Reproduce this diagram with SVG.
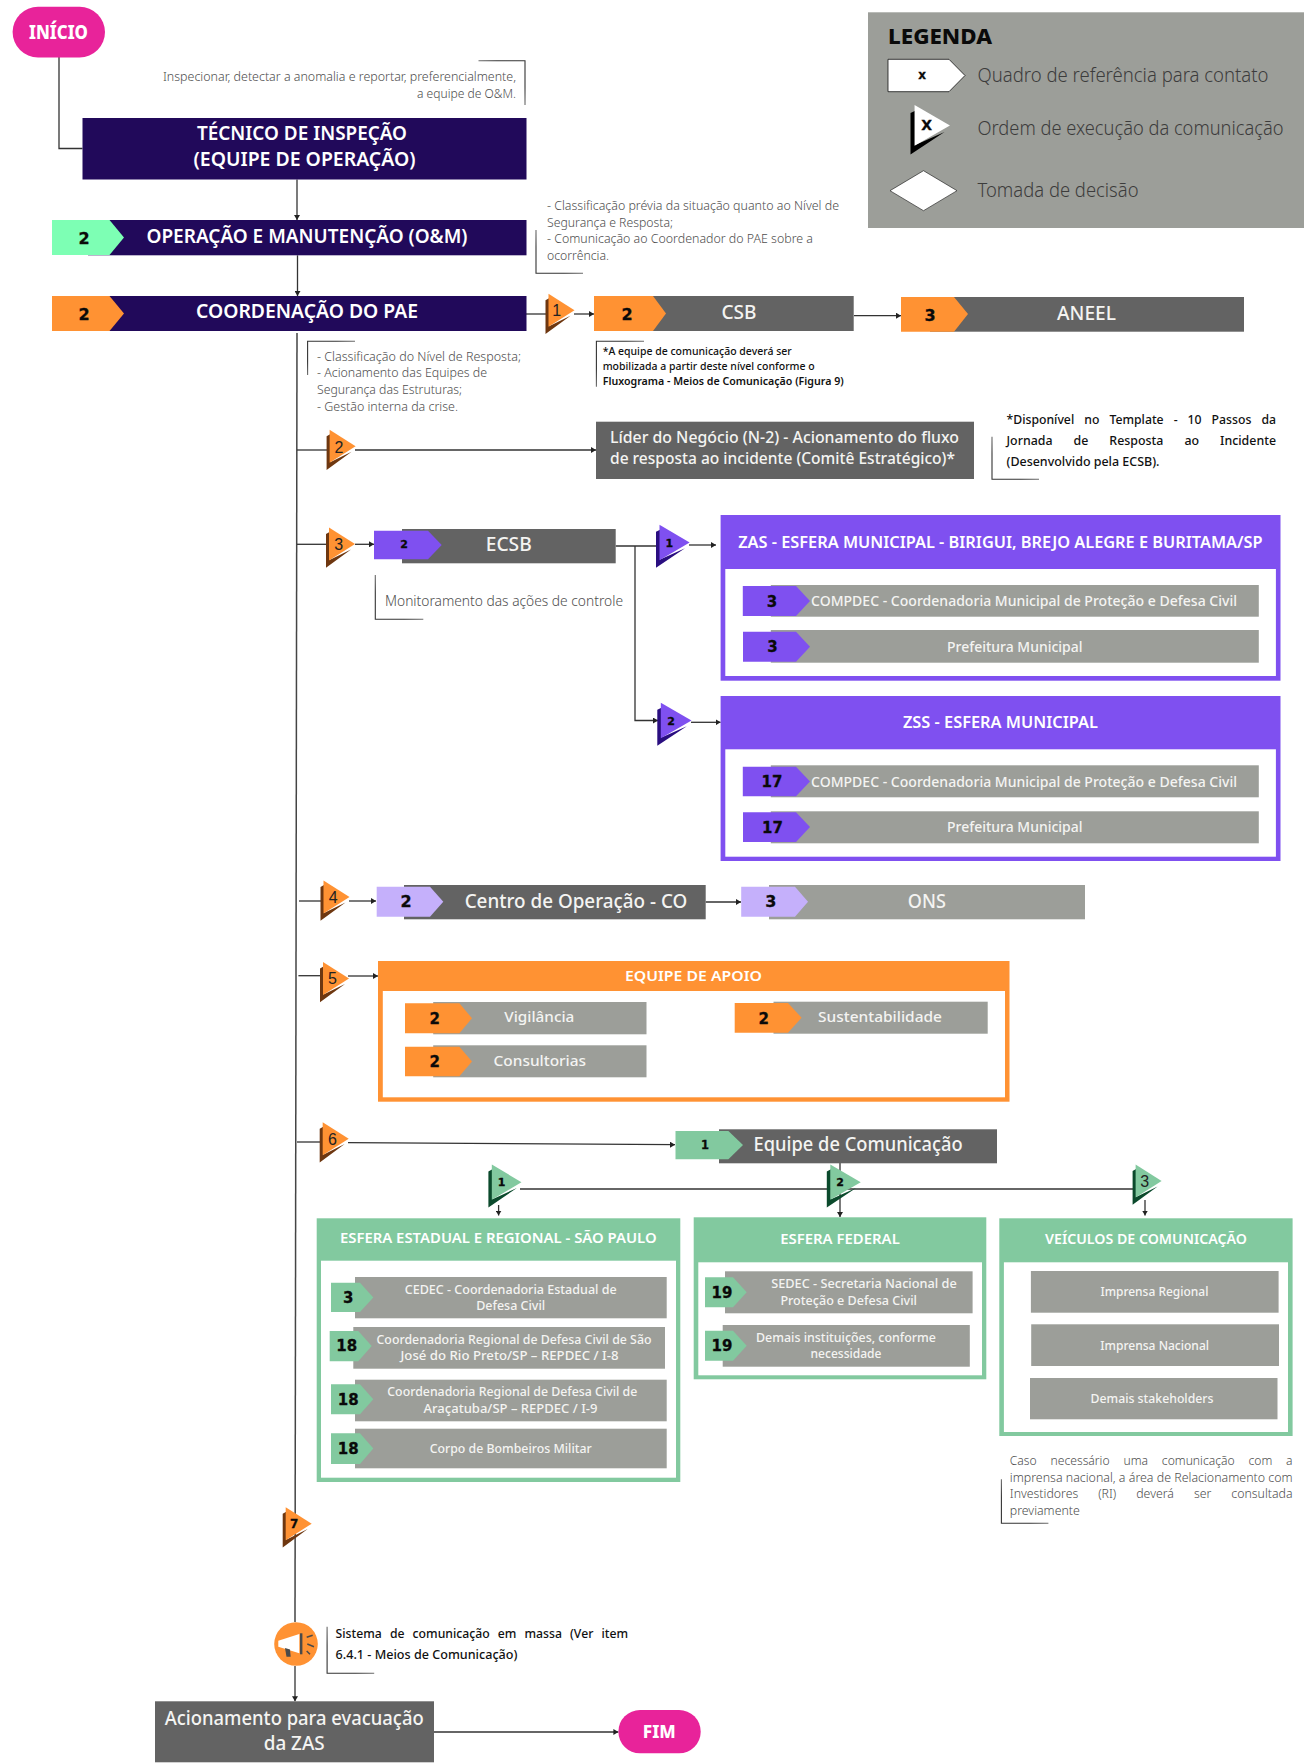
<svg xmlns="http://www.w3.org/2000/svg" width="1310" height="1764" viewBox="0 0 1310 1764">
<style>
text{font-family:"Noto Sans","Liberation Sans",sans-serif}
.m{text-anchor:middle}
.e{text-anchor:end}
.wb{fill:#fff;font-weight:600}
.wx{fill:#fff;font-weight:800}
.w{fill:#f4f4f2;font-weight:500}
.n{font-family:"DejaVu Sans",sans-serif;font-weight:700;fill:#0a0a0a;text-anchor:middle;stroke:#0a0a0a;stroke-width:0.300}
.oa{font-family:"Liberation Sans",sans-serif;font-size:16px;fill:#222;text-anchor:middle}
.a{fill:#4e4e4e;font-weight:300}
.b{fill:#111;font-weight:500}
.lg{fill:#3c3c3c;font-size:20px;font-weight:300}
.navy{fill:#21095a}.dk{fill:#636363}.gr{fill:#9c9e99}
.or{fill:#ff9233}.pu{fill:#7f50f0}.li{fill:#c5b0fb}.ge{fill:#82c99f}.mi{fill:#7dffb4}
.po{fill:#ff9233;color:#6e3710}.pp{fill:#7f50f0;color:#2a0e80}.pg{fill:#82c99f;color:#0b4a2c}.pw{fill:#fff;color:#000}
.pk{fill:#e8239a}
.c{fill:none;stroke:#333;stroke-width:1.3}
.ca{fill:none;stroke:#333;stroke-width:1.3;marker-end:url(#ah)}
.tr{fill:none;stroke:url(#ftr);stroke-width:1.100}
.bl{fill:none;stroke:url(#fbl);stroke-width:1.100}
.tl{fill:none;stroke:url(#ftl);stroke-width:1.100}
</style>
<defs>
<marker id="ah" viewBox="0 0 5 6" refX="5" refY="3" markerWidth="5" markerHeight="6" markerUnits="userSpaceOnUse" orient="auto"><path d="M0 0L5 3L0 6Z" fill="#222"/></marker>
<g id="ot"><polygon points="0,7 3.500,5 3.500,33 25,22.400 0,40.700" fill="currentColor"/><polygon points="3,0.500 29,17 3,33.500"/></g>
<linearGradient id="ftr" x1="1" y1="0" x2="0" y2="1"><stop offset="0.300" stop-color="#333"/><stop offset="1" stop-color="#333" stop-opacity="0"/></linearGradient>
<linearGradient id="fbl" x1="0" y1="1" x2="1" y2="0"><stop offset="0.300" stop-color="#333"/><stop offset="1" stop-color="#333" stop-opacity="0"/></linearGradient>
<linearGradient id="ftl" x1="0" y1="0" x2="1" y2="1"><stop offset="0.300" stop-color="#333"/><stop offset="1" stop-color="#333" stop-opacity="0"/></linearGradient>
</defs>
<rect width="1310" height="1764" fill="#fff"/>

<g id="connectors">
<path class="c" d="M59 57V148.500H82.500"/>
<path class="ca" d="M297 179.500V220"/>
<path class="ca" d="M297.500 255.300V296"/>
<path class="c" d="M517 314H546"/>
<path class="ca" d="M574 314H594"/>
<path class="ca" d="M854 315.700H901"/>
<path d="M297 333L295 1622" fill="none" stroke="#444" stroke-width="1.500"/>
<path class="ca" d="M295 1666V1701.300"/>
<path class="c" d="M297 450H327"/>
<path class="ca" d="M355 450H596"/>
<path class="c" d="M297 544.300H327"/>
<path class="ca" d="M355 544.300H374"/>
<path class="c" d="M615.700 546H657"/>
<path class="ca" d="M689 545H716"/>
<path class="ca" d="M635 546V720.500H658"/>
<path class="ca" d="M691 722.300H720.600"/>
<path class="c" d="M299 901H322"/>
<path class="ca" d="M349 901H376"/>
<path class="ca" d="M705.700 902H741"/>
<path class="c" d="M298.400 975.700H321"/>
<path class="ca" d="M348 976H378"/>
<path class="c" d="M297 1142H321"/>
<path class="ca" d="M348 1142.700L675 1144.700"/>
<path class="c" d="M520 1189H1133"/>
<path class="ca" d="M840 1163V1217"/>
<path class="ca" d="M498.600 1205V1215.500"/>
<path class="ca" d="M1145 1200V1215.500"/>
<path class="ca" d="M434 1732H618.400"/>
</g>

<g id="inicio"><rect class="pk" x="12.600" y="6.700" width="92.400" height="50.800" rx="25.400"/><text class="wx m" x="58.500" y="38.800" font-size="19" textLength="59" lengthAdjust="spacingAndGlyphs">INÍCIO</text></g>
<g id="nota-inspecao"><path class="tr" d="M478.500 60.700H525V105"/><text class="a e" x="516" y="81" font-size="13" textLength="353" lengthAdjust="spacingAndGlyphs">Inspecionar, detectar a anomalia e reportar, preferencialmente,</text><text class="a e" x="516" y="97.700" font-size="13" textLength="99" lengthAdjust="spacingAndGlyphs">a equipe de O&amp;M.</text></g>
<g id="tecnico"><rect class="navy" x="82.500" y="118" width="444" height="61.500"/><text class="wb m" x="302" y="140" font-size="19" textLength="210" lengthAdjust="spacingAndGlyphs">TÉCNICO DE INSPEÇÃO</text><text class="wb m" x="304.500" y="165.700" font-size="19" textLength="222" lengthAdjust="spacingAndGlyphs">(EQUIPE DE OPERAÇÃO)</text></g>
<g id="om"><rect class="navy" x="88" y="220" width="438.500" height="35.300"/><polygon class="mi" points="52,220 109.500,220 124,237.500 109.500,255 52,255"/><text class="n" x="84" y="243.500" font-size="16">2</text><text class="wb m" x="307" y="242.700" font-size="19" textLength="321" lengthAdjust="spacingAndGlyphs">OPERAÇÃO E MANUTENÇÃO (O&amp;M)</text></g>
<g id="nota-om"><path class="bl" d="M536 230V273.300H583"/><text class="a" x="547" y="210.300" font-size="13" textLength="292" lengthAdjust="spacingAndGlyphs">- Classificação prévia da situação quanto ao Nível de</text><text class="a" x="547" y="226.700" font-size="13" textLength="126" lengthAdjust="spacingAndGlyphs">Segurança e Resposta;</text><text class="a" x="547" y="243.300" font-size="13" textLength="266" lengthAdjust="spacingAndGlyphs">- Comunicação ao Coordenador do PAE sobre a</text><text class="a" x="547" y="260" font-size="13" textLength="62" lengthAdjust="spacingAndGlyphs">ocorrência.</text></g>
<g id="pae"><rect class="navy" x="88" y="296" width="438.500" height="35"/><polygon class="or" points="52,296 109.500,296 124,313.500 109.500,331 52,331"/><text class="n" x="84" y="319.500" font-size="16">2</text><text class="wb m" x="307" y="318" font-size="19" textLength="222" lengthAdjust="spacingAndGlyphs">COORDENAÇÃO DO PAE</text></g>
<g id="ordem-1a"><use href="#ot" class="po" transform="translate(545.500,293.300)"/><text class="oa" x="556.700" y="316">1</text></g>
<g id="csb"><rect class="dk" x="620" y="296" width="233.700" height="35"/><polygon class="or" points="594,296 653,296 666,313.500 653,331 594,331"/><text class="n" x="627" y="319.500" font-size="16">2</text><text class="w m" x="739" y="319" font-size="19" textLength="35" lengthAdjust="spacingAndGlyphs">CSB</text></g>
<g id="aneel"><rect class="dk" x="930" y="297" width="314" height="34.700"/><polygon class="or" points="901,297 954,297 968,314 954,331.700 901,331.700"/><text class="n" x="930" y="320.500" font-size="16">3</text><text class="w m" x="1086.500" y="319.500" font-size="19" textLength="59" lengthAdjust="spacingAndGlyphs">ANEEL</text></g>
<g id="nota-csb"><path class="tl" d="M644 341.300H596.400V386.700"/><text class="b" x="602.700" y="355" font-size="11" textLength="189" lengthAdjust="spacingAndGlyphs">*A equipe de comunicação deverá ser</text><text class="b" x="602.700" y="370" font-size="11" textLength="212" lengthAdjust="spacingAndGlyphs">mobilizada a partir deste nível conforme o</text><text x="602.700" y="385" fill="#111" font-weight="600" font-size="11" textLength="241" lengthAdjust="spacingAndGlyphs">Fluxograma - Meios de Comunicação (Figura 9)</text></g>
<g id="nota-pae"><path class="tl" d="M355 341.300H307.600V375"/><text class="a" x="317" y="360.700" font-size="13" textLength="204" lengthAdjust="spacingAndGlyphs">- Classificação do Nível de Resposta;</text><text class="a" x="317" y="377.300" font-size="13" textLength="170" lengthAdjust="spacingAndGlyphs">- Acionamento das Equipes de</text><text class="a" x="317" y="394" font-size="13" textLength="145" lengthAdjust="spacingAndGlyphs">Segurança das Estruturas;</text><text class="a" x="317" y="410.700" font-size="13" textLength="141" lengthAdjust="spacingAndGlyphs">- Gestão interna da crise.</text></g>
<g id="ordem-2"><use href="#ot" class="po" transform="translate(326.600,429.300)"/><text class="oa" x="339" y="452.500">2</text></g>
<g id="lider"><rect class="dk" x="596" y="421.700" width="378" height="57.300"/><text class="w" x="610" y="443.300" font-size="16" textLength="349" lengthAdjust="spacingAndGlyphs">Líder do Negócio (N-2) - Acionamento do fluxo</text><text class="w" x="610" y="464" font-size="16" textLength="345" lengthAdjust="spacingAndGlyphs">de resposta ao incidente (Comitê Estratégico)*</text></g>
<g id="nota-lider"><path class="bl" d="M992 436.700V479.300H1039"/><text class="b" x="1006.500" y="424" font-size="12.500" word-spacing="7" textLength="269.500" lengthAdjust="spacingAndGlyphs">*Disponível no Template - 10 Passos da</text><text class="b" x="1006.500" y="445" font-size="12.500" word-spacing="18" textLength="269.500" lengthAdjust="spacingAndGlyphs">Jornada de Resposta ao Incidente</text><text class="b" x="1006.500" y="465.700" font-size="12.500" textLength="153" lengthAdjust="spacingAndGlyphs">(Desenvolvido pela ECSB).</text></g>
<g id="ordem-3"><use href="#ot" class="po" transform="translate(326,527)"/><text class="oa" x="338.700" y="550">3</text></g>
<g id="ecsb"><rect class="dk" x="402" y="529" width="213.700" height="34.300"/><polygon class="pu" points="374,530.700 428,530.700 441.700,545 428,559.300 374,559.300"/><text class="n" x="404" y="547.500" font-size="11">2</text><text class="w m" x="508.700" y="551" font-size="19" textLength="46" lengthAdjust="spacingAndGlyphs">ECSB</text></g>
<g id="nota-ecsb"><path class="bl" d="M375.300 575V619.300H423.300"/><text class="a" x="385" y="606" font-size="15" textLength="238" lengthAdjust="spacingAndGlyphs">Monitoramento das ações de controle</text></g>
<g id="ordem-z1"><use href="#ot" class="pp" transform="translate(656,524.300) scale(1.160,1.070)"/><text class="n" x="669.300" y="546.500" font-size="11">1</text></g>
<g id="ordem-z2"><use href="#ot" class="pp" transform="translate(657.300,702.300) scale(1.180,1.070)"/><text class="n" x="671" y="724.500" font-size="11">2</text></g>
<g id="zas"><rect class="pu" x="720.600" y="515" width="559.900" height="165.700"/><rect fill="#fff" x="725.300" y="569" width="550.600" height="107"/><text class="wb m" x="1000.400" y="547.500" font-size="16" textLength="524.500" lengthAdjust="spacingAndGlyphs">ZAS - ESFERA MUNICIPAL - BIRIGUI, BREJO ALEGRE E BURITAMA/SP</text>
<rect class="gr" x="770.800" y="585" width="488" height="31.700"/><polygon class="pu" points="742.800,586 796,586 810,601 796,616 742.800,616"/><text class="n" x="772" y="606.500" font-size="15">3</text><text class="w" x="811" y="605.500" font-size="15" textLength="426" lengthAdjust="spacingAndGlyphs">COMPDEC - Coordenadoria Municipal de Proteção e Defesa Civil</text>
<rect class="gr" x="770.800" y="630" width="488" height="32.700"/><polygon class="pu" points="743,631.700 796,631.700 810,646.700 796,661.700 743,661.700"/><text class="n" x="772.500" y="652" font-size="15">3</text><text class="w m" x="1014.800" y="651.500" font-size="15" textLength="135.400" lengthAdjust="spacingAndGlyphs">Prefeitura Municipal</text></g>
<g id="zss"><rect class="pu" x="720.600" y="696" width="559.900" height="165"/><rect fill="#fff" x="725.300" y="749.300" width="550.600" height="107.400"/><text class="wb m" x="1000.400" y="728" font-size="16" textLength="195" lengthAdjust="spacingAndGlyphs">ZSS - ESFERA MUNICIPAL</text>
<rect class="gr" x="770.800" y="765.300" width="488" height="32"/><polygon class="pu" points="742.800,766.700 796,766.700 810,781.500 796,796.300 742.800,796.300"/><text class="n" x="772" y="787" font-size="15">17</text><text class="w" x="811" y="786.500" font-size="15" textLength="426" lengthAdjust="spacingAndGlyphs">COMPDEC - Coordenadoria Municipal de Proteção e Defesa Civil</text>
<rect class="gr" x="770.800" y="811.300" width="488" height="32"/><polygon class="pu" points="743,812.300 796,812.300 810,827 796,842 743,842"/><text class="n" x="772.500" y="832.500" font-size="15">17</text><text class="w m" x="1014.800" y="832" font-size="15" textLength="135.400" lengthAdjust="spacingAndGlyphs">Prefeitura Municipal</text></g>
<g id="ordem-4"><use href="#ot" class="po" transform="translate(320.500,880)"/><text class="oa" x="333.300" y="903">4</text></g>
<g id="co"><rect class="dk" x="404" y="885" width="301.700" height="34.300"/><polygon class="li" points="376.700,886.700 430,886.700 443.300,901.700 430,916.700 376.700,916.700"/><text class="n" x="406" y="907" font-size="16">2</text><text class="w m" x="576" y="908" font-size="19" textLength="222.700" lengthAdjust="spacingAndGlyphs">Centro de Operação - CO</text></g>
<g id="ons"><rect class="gr" x="769" y="885" width="316" height="34.300"/><polygon class="li" points="741.200,886.700 795,886.700 808,901.700 795,916.700 741.200,916.700"/><text class="n" x="770.800" y="907" font-size="16">3</text><text class="w m" x="926.800" y="908" font-size="19" textLength="38" lengthAdjust="spacingAndGlyphs">ONS</text></g>
<g id="ordem-5"><use href="#ot" class="po" transform="translate(320,961.500)"/><text class="oa" x="332.400" y="984">5</text></g>
<g id="apoio"><rect class="or" x="378" y="961" width="631.500" height="140.700"/><rect fill="#fff" x="382.800" y="991" width="622.200" height="106.300"/><text class="wb m" x="693.500" y="981.300" font-size="15" textLength="137" lengthAdjust="spacingAndGlyphs">EQUIPE DE APOIO</text>
<rect class="gr" x="433.200" y="1002" width="213.300" height="32.300"/><polygon class="or" points="405,1003.300 459.400,1003.300 472,1018.300 459.400,1033.300 405,1033.300"/><text class="n" x="434.600" y="1024" font-size="15">2</text><text class="w m" x="539.300" y="1022" font-size="15" textLength="70" lengthAdjust="spacingAndGlyphs">Vigilância</text>
<rect class="gr" x="433.200" y="1045.300" width="213.300" height="32"/><polygon class="or" points="405,1046.700 459.400,1046.700 472,1061.500 459.400,1076.300 405,1076.300"/><text class="n" x="434.600" y="1067" font-size="15">2</text><text class="w m" x="539.800" y="1065.500" font-size="15" textLength="92.600" lengthAdjust="spacingAndGlyphs">Consultorias</text>
<rect class="gr" x="773.500" y="1001.700" width="214.200" height="32"/><polygon class="or" points="734.700,1003 788,1003 801.600,1017.800 788,1032.700 734.700,1032.700"/><text class="n" x="763.800" y="1023.500" font-size="15">2</text><text class="w m" x="880" y="1022" font-size="15" textLength="124" lengthAdjust="spacingAndGlyphs">Sustentabilidade</text></g>
<g id="ordem-6"><use href="#ot" class="po" transform="translate(319.700,1121.700)"/><text class="oa" x="332.400" y="1144.500">6</text></g>
<g id="comunicacao"><rect class="dk" x="719" y="1129.300" width="278" height="34"/><polygon class="ge" points="675.500,1131 728.400,1131 743,1145 728.400,1159.300 675.500,1159.300"/><text class="n" x="705" y="1148.500" font-size="11.500">1</text><text class="w" x="753.600" y="1151" font-size="19" textLength="209" lengthAdjust="spacingAndGlyphs">Equipe de Comunicação</text></g>
<g id="ordem-c1"><use href="#ot" class="pg" transform="translate(488.400,1164) scale(1.140,1.070)"/><text class="n" x="501.500" y="1186" font-size="11">1</text></g>
<g id="ordem-c2"><use href="#ot" class="pg" transform="translate(826.800,1164) scale(1.170,1.070)"/><text class="n" x="840" y="1186" font-size="11">2</text></g>
<g id="ordem-c3"><use href="#ot" class="pg" transform="translate(1132.600,1164)"/><text class="oa" x="1144.600" y="1186.500">3</text></g>
<g id="estadual"><rect class="ge" x="316.700" y="1218.300" width="363.600" height="263.700"/><rect fill="#fff" x="321" y="1260.700" width="355" height="217"/><text class="wb m" x="498.300" y="1243" font-size="14.500" textLength="316.700" lengthAdjust="spacingAndGlyphs">ESFERA ESTADUAL E REGIONAL - SÃO PAULO</text>
<rect class="gr" x="355" y="1277" width="311.700" height="41.300"/><polygon class="ge" points="331,1282.700 360,1282.700 373.300,1297.500 360,1312 331,1312"/><text class="n" x="348.300" y="1303" font-size="15">3</text><text class="w m" x="510.700" y="1293.500" font-size="12.500" textLength="212" lengthAdjust="spacingAndGlyphs">CEDEC - Coordenadoria Estadual de</text><text class="w m" x="510.700" y="1310" font-size="12.500" textLength="69" lengthAdjust="spacingAndGlyphs">Defesa Civil</text>
<rect class="gr" x="353.300" y="1327" width="311.700" height="41.700"/><polygon class="ge" points="329.700,1331 358.300,1331 371.700,1346 358.300,1361.300 329.700,1361.300"/><text class="n" x="346.700" y="1351" font-size="15">18</text><text class="w m" x="514" y="1343.800" font-size="12.500" textLength="275" lengthAdjust="spacingAndGlyphs">Coordenadoria Regional de Defesa Civil de São</text><text class="w m" x="509.500" y="1360.300" font-size="12.500" textLength="218" lengthAdjust="spacingAndGlyphs">José do Rio Preto/SP – REPDEC / I-8</text>
<rect class="gr" x="355" y="1379.700" width="311.700" height="41.600"/><polygon class="ge" points="331,1384.300 360,1384.300 373.300,1399.300 360,1414.300 331,1414.300"/><text class="n" x="348.300" y="1404.500" font-size="15">18</text><text class="w m" x="512.300" y="1396" font-size="12.500" textLength="250" lengthAdjust="spacingAndGlyphs">Coordenadoria Regional de Defesa Civil de</text><text class="w m" x="510.500" y="1412.700" font-size="12.500" textLength="174" lengthAdjust="spacingAndGlyphs">Araçatuba/SP – REPDEC / I-9</text>
<rect class="gr" x="355" y="1428.700" width="311.700" height="39.600"/><polygon class="ge" points="331,1433.300 360,1433.300 373.300,1448.500 360,1464 331,1464"/><text class="n" x="348.300" y="1453.500" font-size="15">18</text><text class="w m" x="510.700" y="1452.500" font-size="12.500" textLength="162" lengthAdjust="spacingAndGlyphs">Corpo de Bombeiros Militar</text></g>
<g id="federal"><rect class="ge" x="693.700" y="1217.300" width="292.600" height="162"/><rect fill="#fff" x="698.300" y="1262.300" width="283.700" height="113"/><text class="wb m" x="840" y="1243.500" font-size="14.500" textLength="119.600" lengthAdjust="spacingAndGlyphs">ESFERA FEDERAL</text>
<rect class="gr" x="725" y="1271.300" width="247.600" height="42"/><polygon class="ge" points="705,1277.300 733,1277.300 746.700,1292.300 733,1307.300 705,1307.300"/><text class="n" x="722" y="1297.500" font-size="15">19</text><text class="w m" x="864" y="1288" font-size="12.500" textLength="185.500" lengthAdjust="spacingAndGlyphs">SEDEC - Secretaria Nacional de</text><text class="w m" x="848.700" y="1304.800" font-size="12.500" textLength="136.600" lengthAdjust="spacingAndGlyphs">Proteção e Defesa Civil</text>
<rect class="gr" x="722.700" y="1325" width="247.100" height="41.700"/><polygon class="ge" points="705,1330.700 733,1330.700 746.700,1345.700 733,1360.700 705,1360.700"/><text class="n" x="722" y="1350.500" font-size="15">19</text><text class="w m" x="846" y="1341.500" font-size="12.500" textLength="180" lengthAdjust="spacingAndGlyphs">Demais instituições, conforme</text><text class="w m" x="846" y="1358" font-size="12.500" textLength="71" lengthAdjust="spacingAndGlyphs">necessidade</text></g>
<g id="veiculos"><rect class="ge" x="999.300" y="1218.300" width="293.300" height="217.700"/><rect fill="#fff" x="1003.900" y="1262.300" width="284.100" height="169.700"/><text class="wb m" x="1146" y="1244" font-size="14.500" textLength="201.800" lengthAdjust="spacingAndGlyphs">VEÍCULOS DE COMUNICAÇÃO</text>
<rect class="gr" x="1030.900" y="1271" width="247.700" height="41.700"/><text class="w m" x="1154.400" y="1296.200" font-size="12.500" textLength="108" lengthAdjust="spacingAndGlyphs">Imprensa Regional</text>
<rect class="gr" x="1031.200" y="1324.300" width="247.800" height="41.700"/><text class="w m" x="1154.700" y="1349.500" font-size="12.500" textLength="108.700" lengthAdjust="spacingAndGlyphs">Imprensa Nacional</text>
<rect class="gr" x="1030" y="1378" width="247.500" height="41.300"/><text class="w m" x="1152" y="1403.200" font-size="12.500" textLength="123" lengthAdjust="spacingAndGlyphs">Demais stakeholders</text></g>
<g id="nota-veiculos"><path class="bl" d="M1001.400 1479.300V1523.300H1048.400"/><text class="a" x="1009.800" y="1465" font-size="12.500" word-spacing="11" textLength="282.800" lengthAdjust="spacingAndGlyphs">Caso necessário uma comunicação com a</text><text class="a" x="1009.800" y="1481.700" font-size="12.500" textLength="282.800" lengthAdjust="spacingAndGlyphs">imprensa nacional, a área de Relacionamento com</text><text class="a" x="1009.800" y="1498.300" font-size="12.500" word-spacing="17" textLength="282.800" lengthAdjust="spacingAndGlyphs">Investidores (RI) deverá ser consultada</text><text class="a" x="1009.800" y="1515" font-size="12.500" textLength="70" lengthAdjust="spacingAndGlyphs">previamente</text></g>
<g id="ordem-7"><use href="#ot" class="po" transform="translate(282.700,1506.700)"/><text class="n" x="294.200" y="1528" font-size="12">7</text></g>
<g id="megafone"><circle class="or" cx="296" cy="1644" r="21.800"/><polygon points="278.300,1640.700 299.300,1634 299.300,1653.300 278.300,1646.700" fill="#fff"/><polygon points="285,1648 290,1649.500 290.700,1656.700 286.500,1656.700" fill="#4a4a4a"/><rect x="300" y="1633.300" width="2.400" height="21" fill="#4a4a4a"/><path d="M306.700 1637.300L312.700 1635.300M307.300 1644L314 1646.700M306.700 1651L310 1654.300" fill="none" stroke="#4a4a4a" stroke-width="1.500"/></g>
<g id="nota-massa"><path class="bl" d="M327.100 1626.700V1673.300H374.200"/><text class="b" x="335.600" y="1638.300" font-size="12.500" word-spacing="5" textLength="292.400" lengthAdjust="spacingAndGlyphs">Sistema de comunicação em massa (Ver item</text><text class="b" x="335.600" y="1659" font-size="12.500" textLength="181.800" lengthAdjust="spacingAndGlyphs">6.4.1 - Meios de Comunicação)</text></g>
<g id="acionamento"><rect class="dk" x="155" y="1701.300" width="279" height="61"/><text class="w m" x="294.200" y="1725" font-size="19" textLength="259" lengthAdjust="spacingAndGlyphs">Acionamento para evacuação</text><text class="w m" x="294.200" y="1750" font-size="19" textLength="61" lengthAdjust="spacingAndGlyphs">da ZAS</text></g>
<g id="fim"><rect class="pk" x="618.400" y="1710" width="82.300" height="43.300" rx="21.600"/><text class="wx m" x="659.300" y="1737.500" font-size="18" textLength="33" lengthAdjust="spacingAndGlyphs">FIM</text></g>
<g id="legenda"><rect class="gr" x="868" y="12.300" width="436" height="215.700"/><text x="888" y="44.300" font-size="22" font-weight="800" fill="#0a0a0a" textLength="104" lengthAdjust="spacingAndGlyphs">LEGENDA</text>
<polygon points="888,59.300 949,59.300 965,75.500 949,91.700 888,91.700" fill="#fff" stroke="#111" stroke-width="0.800"/><text class="n" x="922" y="79" font-size="12">x</text><text class="lg" x="977.500" y="81.700" textLength="291" lengthAdjust="spacingAndGlyphs">Quadro de referência para contato</text>
<use href="#ot" class="pw" transform="translate(910.500,104.500) scale(1.360,1.230)"/><text class="n" x="926.700" y="130" font-size="14">X</text><text class="lg" x="977.500" y="135.300" textLength="306" lengthAdjust="spacingAndGlyphs">Ordem de execução da comunicação</text>
<polygon points="890,190.700 923.500,170.700 957,190.700 923.500,210.700" fill="#fff" stroke="#111" stroke-width="0.600"/><text class="lg" x="977.500" y="196.700" textLength="161" lengthAdjust="spacingAndGlyphs">Tomada de decisão</text></g>
</svg>
